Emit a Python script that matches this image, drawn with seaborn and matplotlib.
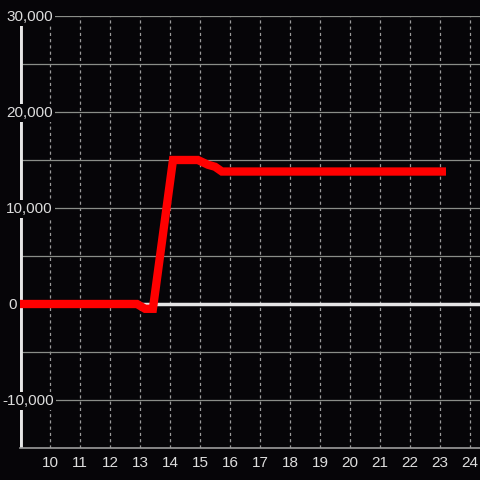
import matplotlib
matplotlib.use("Agg")
import matplotlib.pyplot as plt
import matplotlib.transforms as mtransforms
import pandas as pd
import seaborn as sns

# ---- data -----------------------------------------------------------------
hours = [9.0, 12.9, 13.17, 13.43, 14.1, 14.93, 15.27, 15.5, 15.73, 23.2]
values = [0, 0, -500, -500, 15000, 15000, 14500, 14300, 13800, 13800]

x_ticks = list(range(10, 25))
y_ticks = [-10000, 0, 10000, 20000, 30000]
y_grid = [-15000, -10000, -5000, 0, 5000, 10000, 15000, 20000, 25000, 30000]

data = pd.DataFrame({"hour": hours, "value": values})

bg = "#060508"
sns.set_style("dark", {"axes.facecolor": bg, "figure.facecolor": bg})
plt.rcParams["font.family"] = ["Liberation Sans", "DejaVu Sans"]

fig = plt.figure(figsize=(4.8, 4.8), dpi=100)
ax = fig.add_axes([20 / 480, 32 / 480, 460 / 480, 432 / 480])
ax.set_facecolor(bg)

ax.set_xlim(9, 9 + 460 / 30)
ax.set_ylim(-15000, 30000)

# grid
for x in x_ticks:
    ax.axvline(x, color="#9a9a9a", lw=0.9, ls=(0, (2.5, 2.5)), zorder=1)
for y in y_grid:
    ax.axhline(y, color="#8a8d88", lw=0.9, zorder=1)
ax.axhline(0, color="#e6e6e6", lw=2.5, zorder=2)
ax.axvline(9, color="#e6e6e6", lw=3.5, zorder=2)

sns.lineplot(data=data, x="hour", y="value", color="#ff0000", lw=6,
             solid_joinstyle="miter", solid_capstyle="butt", ax=ax, zorder=3)

for s in ["top", "right", "left"]:
    ax.spines[s].set_visible(False)
ax.spines["bottom"].set_color("#9a9a9a")
ax.spines["bottom"].set_linewidth(1.2)

ax.set_xticks(x_ticks)
ax.set_xticklabels([str(t) for t in x_ticks])
ax.tick_params(axis="x", length=0, colors="#dddddd", labelsize=11, pad=6)
ax.set_yticks([])
ax.set_xlabel("")
ax.set_ylabel("")

# y labels drawn over the axis with a dark box behind them
trans = ax.get_yaxis_transform()
for y in y_ticks:
    label = f"{y:,}"
    dx = -4 if y < 0 else (2 if y == 0 else 0)
    off = mtransforms.offset_copy(trans, fig=fig, x=(dx - 14) * 72 / 100,
                                  y=-1 * 72 / 100, units="points")
    ax.text(0, y, label, transform=off, ha="left", va="center", fontsize=11,
            color="#dddddd", zorder=5, clip_on=False,
            bbox=dict(boxstyle="square,pad=0.15", fc=bg, ec="none"))

fig.savefig("out.png", dpi=100, facecolor=bg)
